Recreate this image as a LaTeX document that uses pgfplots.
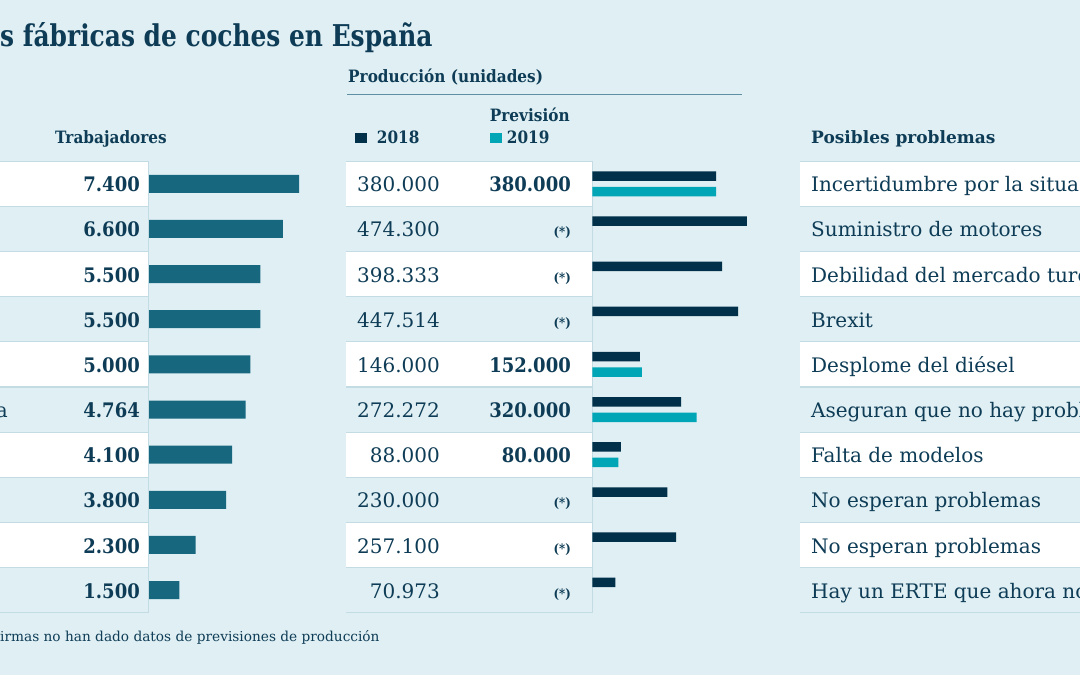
\documentclass[border=0pt]{standalone}
\usepackage{pgfplots}
\pgfplotsset{compat=1.18}
\usepackage{fontspec}
\setmainfont{DejaVu Serif}[BoldFeatures={FakeStretch=0.9}]
\newfontfamily\fullbold{DejaVu Serif}
\newfontfamily\titlefont{DejaVu Serif}[BoldFeatures={FakeStretch=0.83}]
\definecolor{bg}{HTML}{DFEFF3}
\definecolor{rule}{HTML}{C3DCE4}
\definecolor{txt}{HTML}{0E3C56}
\definecolor{barL}{HTML}{17677F}
\definecolor{barA}{HTML}{00304A}
\definecolor{barB}{HTML}{00A6B6}
\definecolor{hline}{HTML}{5F8FA3}
\newcommand\fnum{\fontsize{20}{24}\selectfont}
\newcommand\fhead{\fontsize{17}{20}\selectfont\bfseries}
\newcommand\na{{\fontsize{13}{15}\selectfont\bfseries (*)}}
\begin{document}
\begin{tikzpicture}
\clip (0pt,0pt) rectangle (1080pt,-675pt);
\begin{scope}[x=1pt,y=-1pt]
\fill[bg] (-5,-5) rectangle (1085,680);
% table rows
\foreach \i in {0,...,9}{
  \pgfmathsetmacro\t{161.2+\i*45.15}
  \pgfmathsetmacro\b{161.2+(\i+1)*45.15}
  \ifodd\i\else
    \fill[white] (-5,\t) rectangle (148.3,\b);
    \fill[white] (346,\t) rectangle (592.3,\b);
    \fill[white] (800,\t) rectangle (1090,\b);
  \fi
}
\foreach \i in {0,...,10}{
  \pgfmathsetmacro\t{161.2+\i*45.15}
  \draw[rule, line width=1.2pt] (-5,\t) -- (148.3,\t);
  \draw[rule, line width=1.2pt] (346,\t) -- (592.3,\t);
  \draw[rule, line width=1.2pt] (800,\t) -- (1090,\t);
}
\draw[rule, line width=1.2pt] (148.3,161.2) -- (148.3,612.7);
\draw[rule, line width=1.2pt] (592.3,161.2) -- (592.3,612.7);
% headings
\node[anchor=base west, inner sep=0, text=txt, font=\fontsize{30}{34}\selectfont\titlefont\bfseries] at (0,46.7) {s fábricas de coches en España};
\node[anchor=base west, inner sep=0, text=txt, font=\fhead] at (348,82.7) {Producción (unidades)};
\draw[hline, line width=1pt] (347,94.3) -- (741.7,94.3);
\node[anchor=base west, inner sep=0, text=txt, font=\fhead] at (489.7,121) {Previsión};
\fill[barA] (355,132.7) rectangle (366.7,142.7);
\node[anchor=base west, inner sep=0, text=txt, font=\fhead] at (376.7,143.3) {2018};
\fill[barB] (489.7,132.7) rectangle (501.7,142.7);
\node[anchor=base west, inner sep=0, text=txt, font=\fhead] at (506.7,143.3) {2019};
\node[anchor=base west, inner sep=0, text=txt, font=\fhead] at (55,143.3) {Trabajadores};
\node[anchor=base west, inner sep=0, text=txt, font=\fontsize{17}{20}\selectfont\fullbold\bfseries] at (811,143.3) {Posibles problemas};
% table text
\foreach \w/\p/\q/\r [count=\i from 0] in {
 7.400/380.000/380.000/Incertidumbre por la situación,
 6.600/474.300/\na/Suministro de motores,
 5.500/398.333/\na/Debilidad del mercado turco,
 5.500/447.514/\na/Brexit,
 5.000/146.000/152.000/Desplome del diésel,
 4.764/272.272/320.000/Aseguran que no hay problemas,
 4.100/88.000/80.000/Falta de modelos,
 3.800/230.000/\na/No esperan problemas,
 2.300/257.100/\na/No esperan problemas,
 1.500/70.973/\na/Hay un ERTE que ahora no}{
  \pgfmathsetmacro\yb{191.8+\i*45.15}
  \node[anchor=base east, inner sep=0, text=txt, font=\fnum\bfseries] at (140,\yb) {\w};
  \node[anchor=base east, inner sep=0, text=txt, font=\fnum] at (440,\yb) {\p};
  \node[anchor=base east, inner sep=0, text=txt, font=\fnum\bfseries] at (571,\yb) {\q};
  \node[anchor=base west, inner sep=0, text=txt, font=\fnum] at (811,\yb) {\r};
}
\node[anchor=base east, inner sep=0, text=txt, font=\fnum] at (8,417.5) {a};
\node[anchor=base west, inner sep=0, text=txt, font=\fontsize{13.7}{16}\selectfont] at (0,641.7) {irmas no han dado datos de previsiones de producción};
\end{scope}
% left bars
\begin{axis}[at={(149pt,-161.2pt)}, anchor=north west, scale only axis,
  width=300pt, height=451.5pt, xmin=0, xmax=14800, ymin=0.5, ymax=10.5,
  axis lines=none, xbar, bar width=18pt, clip=false]
\addplot[fill=barL, draw=none] coordinates {(7400,10) (6600,9) (5500,8) (5500,7) (5000,6) (4764,5) (4100,4) (3800,3) (2300,2) (1500,1)};
\end{axis}
% production bars
\begin{axis}[at={(592.3pt,-161.2pt)}, anchor=north west, scale only axis,
  width=400pt, height=451.5pt, xmin=0, xmax=1227000, ymin=0.5, ymax=10.5,
  axis lines=none, xbar, bar width=9.5pt, clip=false]
\addplot[fill=barA, draw=none, bar shift=7.75pt] coordinates {(380000,10) (474300,9) (398333,8) (447514,7) (146000,6) (272272,5) (88000,4) (230000,3) (257100,2) (70973,1)};
\addplot[fill=barB, draw=none, bar shift=-7.75pt] coordinates {(380000,10) (152000,6) (320000,5) (80000,4)};
\end{axis}
\end{tikzpicture}
\end{document}
